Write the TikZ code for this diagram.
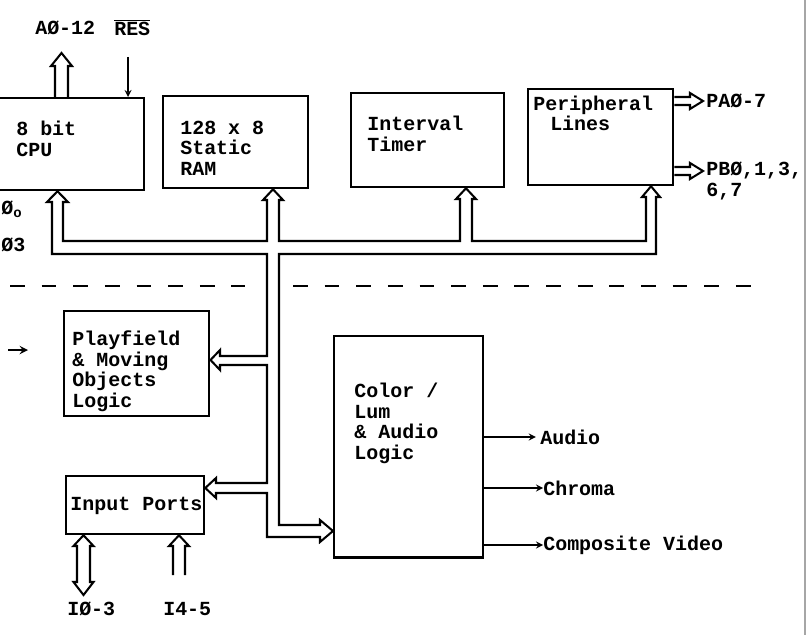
\documentclass[tikz,border=0pt]{standalone}
\usepackage{fontspec}
\newfontfamily\scanfont{Liberation Mono}
\usetikzlibrary{arrows,positioning}
\newcommand\scanfnt{\scanfont\bfseries\fontsize{14.2pt}{14.6pt}\selectfont}

\begin{document}
\begin{tikzpicture}[x=0.025cm,y=-0.025cm,>=stealth,
 every node/.style={font=\scanfnt},
 block/.style={draw,line width=1.6pt,inner sep=0pt,anchor=north west},
 txt/.style={inner sep=0pt,align=left,anchor=north west},
 lbl/.style={inner sep=0pt,anchor=west},
 bus/.style={line width=1.45pt,line join=miter},
 sig/.style={->,line width=1.2pt}]
 \useasboundingbox (0,0) rectangle (807,635);
 \clip (0,0) rectangle (807,635);
 % blocks
 \node[block,minimum width=4.08cm,minimum height=2.3cm] (cpu) at (-20,97) {};
 \node[block,minimum width=3.63cm,minimum height=2.3cm] (ram) at (162,95) {};
 \node[block,minimum width=3.83cm,minimum height=2.35cm] (timer) at (350,92) {};
 \node[block,minimum width=3.63cm,minimum height=2.4cm] (periph) at (527,88) {};
 \node[block,minimum width=3.63cm,minimum height=2.63cm] (playf) at (63,310) {};
 \node[block,minimum width=3.45cm,minimum height=1.45cm] (inports) at (65,475) {};
 \node[block,minimum width=3.73cm,minimum height=5.53cm] (colorlum) at (333,335) {};
 % block texts
 \node[txt,below right=0.6cm and 0.9cm of cpu.north west] (cputxt) {8 bit\\CPU};
 \node[txt,below right=0.64cm and 0.45cm of ram.north west] (ramtxt) {128 x 8\\Static\\RAM};
 \node[txt,below right=0.6cm and 0.43cm of timer.north west] (timertxt) {Interval\\Timer};
 \node[txt,below right=0.19cm and 0.15cm of periph.north west] (periphtxt) {Peripheral\\\hspace*{0.85em}Lines};
 \node[txt,below right=0.52cm and 0.23cm of playf.north west] (playftxt) {Playfield\\\& Moving\\Objects\\Logic};
 \node[txt,below right=0.56cm and 0.13cm of inports.north west] (inportstxt) {Input Ports};
 \node[txt,below right=1.2cm and 0.53cm of colorlum.north west] (colortxt) {Color /\\Lum\\\& Audio\\Logic};
 % outside labels
 \node[lbl] (addr) at (35,28) {AØ-12};
 \node[lbl] (res) at (114,28) {$\overline{\hbox{RES}}$};
 \node[lbl] (phio) at (1,209) {Ø\textsubscript{o}};
 \node[lbl] (phithree) at (1,245) {Ø3};
 \node[lbl] (pa) at (706,101) {PAØ-7};
 \node[txt] (pb) at (706,162) {PBØ,1,3,\\6,7};
 \node[lbl] (audio) at (540,437) {Audio};
 \node[lbl] (chroma) at (543,488) {Chroma};
 \node[lbl] (video) at (543,545) {Composite Video};
 \node[lbl] (ioth) at (67,609) {IØ-3};
 \node[lbl] (ifour) at (163,609) {I4-5};
 % main bus
 \draw[bus] (52,254) -- (52,202) -- (47,202) -- (57.5,0 |- cpu.south) -- (68,202) -- (63,202) -- (63,241)
  -- (267,241) -- (267,200) -- (263,200) -- (273,0 |- ram.south) -- (283,200) -- (279,200) -- (279,241)
  -- (460,241) -- (460,199) -- (456,199) -- (466,0 |- timer.south) -- (476,199) -- (472,199) -- (472,241)
  -- (646,241) -- (646,197) -- (642,197) -- (651,0 |- periph.south) -- (660,197) -- (656,197) -- (656,254)
  -- (279,254) -- (279,525) -- (320,525) -- (320,520) -- (colorlum.west |- 0,531) -- (320,542) -- (320,537)
  -- (267,537) -- (267,493) -- (216,493) -- (216,498) -- (inports.east |- 0,488) -- (216,478) -- (216,483)
  -- (267,483) -- (267,365) -- (220,365) -- (220,370) -- (playf.east |- 0,360) -- (220,350) -- (220,356)
  -- (267,356) -- (267,254) -- cycle;
 % small buses
 \draw[bus] (55,0 |- cpu.north) -- (55,66) -- (51,66) -- (61.5,53) -- (72,66) -- (68,66) -- (68,0 |- cpu.north);
 \draw[bus] (periph.east |- 0,97) -- (690,97) -- (690,93) -- (703,101) -- (690,109) -- (690,105) -- (periph.east |- 0,105);
 \draw[bus] (periph.east |- 0,167) -- (690,167) -- (690,163) -- (703,171) -- (690,179) -- (690,175) -- (periph.east |- 0,175);
 \draw[bus] (83.5,0 |- inports.south) -- (93.5,546) -- (90,546) -- (90,582) -- (93.5,582) -- (83.5,595)
  -- (73.5,582) -- (77,582) -- (77,546) -- (73.5,546) -- cycle;
 \draw[bus] (173,575) -- (173,546) -- (169,546) -- (179,0 |- inports.south) -- (189,546) -- (185,546) -- (185,575);
 % single lines
 \coordinate (resin) at (128,57);
 \coordinate (hin) at (8,350);
 \draw[sig] (resin) -- (resin |- cpu.north);
 \draw[sig,line width=1.6pt] (hin) -- ++(20,0);
 \draw[sig] (colorlum.east |- audio) -- ([xshift=-3pt]audio.west);
 \draw[sig] (colorlum.east |- chroma) -- (chroma.west);
 \draw[sig] (colorlum.east |- video) -- (video.west);
 % separator and page edge
 \draw[line width=1.5pt,dash pattern=on 10.5pt off 12pt] (10,286) -- (245,286) (293,286) -- (752,286);
 \draw[gray!70,line width=0.8pt] (805,0) -- (805,635);
\end{tikzpicture}
\end{document}
